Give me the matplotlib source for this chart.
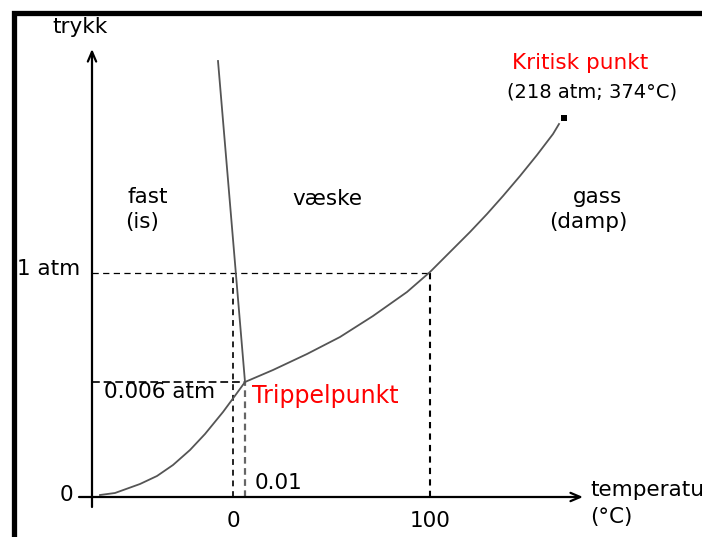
import matplotlib
matplotlib.use("Agg")
import matplotlib.pyplot as plt

# schematic phase diagram of water, units are "drawing units" (not to scale)
triple = (153, 115)
critical = (472, 379)
one_atm_y = 224
boil_x = 338
freeze_x = 141

# melting line (fast / vaeske), from top down to the triple point
melt_x = [126, 153]
melt_y = [436, 115]

# sublimation curve (fast / gass)
subl_x = [8, 23, 48, 65, 81, 98, 113, 131, 145, 153]
subl_y = [2, 4, 13, 21, 32, 47, 63, 85, 104, 115]

# vaporisation curve (vaeske / gass)
vap_x = [153, 181, 215, 248, 281, 315, 338, 361, 378, 395, 411, 428, 445, 461, 467]
vap_y = [115, 127, 143, 160, 181, 205, 225, 248, 265, 283, 301, 321, 342, 363, 373]

x_ticks = [freeze_x, boil_x]
x_tick_labels = ["0", "100"]

FS = 15.5

fig = plt.figure(figsize=(7.02, 5.37), dpi=100)
ax = fig.add_axes([0, 0, 1, 1])
ax.set_xlim(-92, 610)
ax.set_ylim(-40, 497)
ax.axis("off")

# frame bits (left + top)
ax.plot([-78.5, -78.5, 615], [-50, 484.5, 484.5], color="black", lw=3.8,
        solid_joinstyle="miter", clip_on=False)

# axes with arrows
ax.annotate("", xy=(0, 448), xytext=(0, -10),
            arrowprops=dict(arrowstyle="->,head_length=0.7,head_width=0.3",
                            lw=1.6, color="black", shrinkA=0, shrinkB=0))
ax.annotate("", xy=(491, 0), xytext=(-13, 0),
            arrowprops=dict(arrowstyle="->,head_length=0.7,head_width=0.3",
                            lw=1.6, color="black", shrinkA=0, shrinkB=0))

# guide lines
ax.plot([0, boil_x], [one_atm_y, one_atm_y], color="black", lw=0.9, dashes=(5, 3.5))
ax.plot([boil_x, boil_x], [0, one_atm_y], color="black", lw=1.5, dashes=(3, 2.5))
ax.plot([freeze_x, freeze_x], [0, one_atm_y], color="#222222", lw=1.4, dashes=(3, 2.5))
ax.plot([0, triple[0]], [triple[1], triple[1]], color="#222222", lw=1.4, dashes=(4, 2))
ax.plot([triple[0], triple[0]], [0, triple[1]], color="#666666", lw=1.6, dashes=(3, 2))

# phase boundaries
for xs, ys in [(melt_x, melt_y), (subl_x, subl_y), (vap_x, vap_y)]:
    ax.plot(xs, ys, color="#555555", lw=1.3, solid_joinstyle="round")
ax.plot([critical[0]], [critical[1]], marker="s", ms=4.5, color="black", mew=0)

# labels
ax.text(-12, 470, "trykk", fontsize=FS, ha="center", va="center")
ax.text(-12, 228, "1 atm", fontsize=FS, ha="right", va="center")
ax.text(-19, 2, "0", fontsize=FS, ha="right", va="center")
ax.text(12, 105, "0.006 atm", fontsize=FS, ha="left", va="center")
ax.text(160, 101, "Trippelpunkt", fontsize=17, ha="left", va="center", color="red")
ax.text(163, 14, "0.01", fontsize=FS, ha="left", va="center")
for xt, lab in zip(x_ticks, x_tick_labels):
    ax.text(xt, -24, lab, fontsize=FS, ha="center", va="center")
# runs off the right edge, same as the original
ax.text(498, 7, "temperatur", fontsize=FS, ha="left", va="center")
ax.text(498, -20, "(°C)", fontsize=FS, ha="left", va="center")

ax.text(36, 300, "fast", fontsize=FS, ha="left", va="center")
ax.text(33, 275, "(is)", fontsize=FS, ha="left", va="center")
ax.text(235, 298, "væske", fontsize=FS, ha="center", va="center")
ax.text(505, 300, "gass", fontsize=FS, ha="center", va="center")
ax.text(496, 275, "(damp)", fontsize=FS, ha="center", va="center")

ax.text(488, 434, "Kritisk punkt", fontsize=FS, ha="center", va="center", color="red")
ax.text(500, 405, "(218 atm; 374°C)", fontsize=14, ha="center", va="center")

fig.savefig("out.png", dpi=100)
